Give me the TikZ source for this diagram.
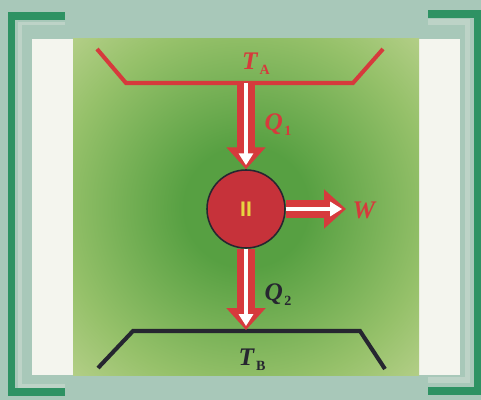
\documentclass[tikz,border=0pt]{standalone}
\usepackage{fontspec}
\setmainfont{Liberation Serif}
\newfontfamily\numfont{Liberation Sans}
\usepackage{xcolor}
\usetikzlibrary{arrows.meta,positioning,calc}

\definecolor{framebg}{HTML}{A8C8B9}
\definecolor{frameline}{HTML}{2E9263}
\definecolor{framelite}{HTML}{BDD3C7}
\definecolor{panelwhite}{HTML}{F4F5EE}
\definecolor{glowin}{HTML}{57A042}
\definecolor{glowmid}{HTML}{96C16A}
\definecolor{glowout}{HTML}{CCDAA0}
\definecolor{hotred}{HTML}{D63A3C}
\definecolor{enginered}{HTML}{C6323A}
\definecolor{coldblack}{HTML}{262630}
\definecolor{numyellow}{HTML}{E8D440}

\pgfdeclareradialshading{glow}{\pgfpoint{0bp}{0bp}}{%
  color(0bp)=(glowin); color(9bp)=(glowin); color(27bp)=(glowmid); color(43bp)=(glowout); color(72bp)=(glowout)}

% symbol with an upright subscript
\newcommand{\qty}[2]{\textbf{\textit{#1}}\kern0.05em\raisebox{-0.45ex}{\fontsize{10}{10}\selectfont\bfseries #2}}

\begin{document}
\begin{tikzpicture}[x=0.025cm,y=-0.025cm,
  every node/.style={font=\fontsize{18}{18}\selectfont},
  plate/.style={line width=2.9pt,line join=miter},
  flowout/.style={draw=hotred,line width=12.1pt,-{Triangle[width=27pt,length=15.6pt]}},
  flowin/.style={draw=white,line width=3.4pt,shorten >=2.8pt,-{Triangle[width=10pt,length=8.5pt]}},
  engine/.style={circle,draw=coldblack,line width=1.1pt,fill=enginered,minimum size=1.95cm,inner sep=0pt}]
  \useasboundingbox (0,0) rectangle (481,400);
  \fill[framebg] (0,0) rectangle (481,400);
  % frame brackets
  \draw[framelite,line width=2.6pt] (65,23.5) -- (20,23.5) -- (20,386) -- (65,386);
  \draw[framelite,line width=4pt] (428,22) -- (467.5,22) -- (467.5,380) -- (428,380);
  \draw[frameline,line width=5.5pt] (65,16) -- (11.5,16) -- (11.5,392) -- (65,392);
  \draw[frameline,line width=5.5pt] (428,14) -- (478,14) -- (478,391) -- (428,391);
  % panel
  \fill[panelwhite] (32,39) rectangle (460,375);
  \shade[shading=glow] (73,39) rectangle (419,375);

  % reservoirs
  \draw[plate,hotred] (97,49) -- (126,83) -- (353,83) -- (383,49);
  \draw[plate,coldblack] (98,368) -- (133,331) -- (360,331) -- (385,369);
  \node[hotred] (ta) at (256,64) {\qty{T}{A}};
  \node[coldblack] (tb) at (252,360) {\qty{T}{B}};

  \coordinate (hot) at (246,83);
  \coordinate (cold) at (246,330);
  \node[engine] (eng) at (246,209) {};
  \node[numyellow,font=\numfont\bfseries\fontsize{15}{15}\selectfont] (num) at (eng.center) {II};
  \coordinate (work) at (346,209);

  % heat and work flows
  \draw[flowout] (hot) -- (eng);
  \draw[flowin] (hot) -- (eng);
  \draw[flowout] (eng) -- (cold);
  \draw[flowin] (eng) -- (cold);
  \draw[flowout] (eng) -- (work);
  \draw[flowin] (eng) -- (work);

  \node[hotred] (q1) at (278,125) {\qty{Q}{1}};
  \node[coldblack] (q2) at (278,295) {\qty{Q}{2}};
  \node[hotred,font=\fontsize{18}{18}\selectfont\bfseries\itshape] (w) at (364,210) {W};
\end{tikzpicture}
\end{document}
